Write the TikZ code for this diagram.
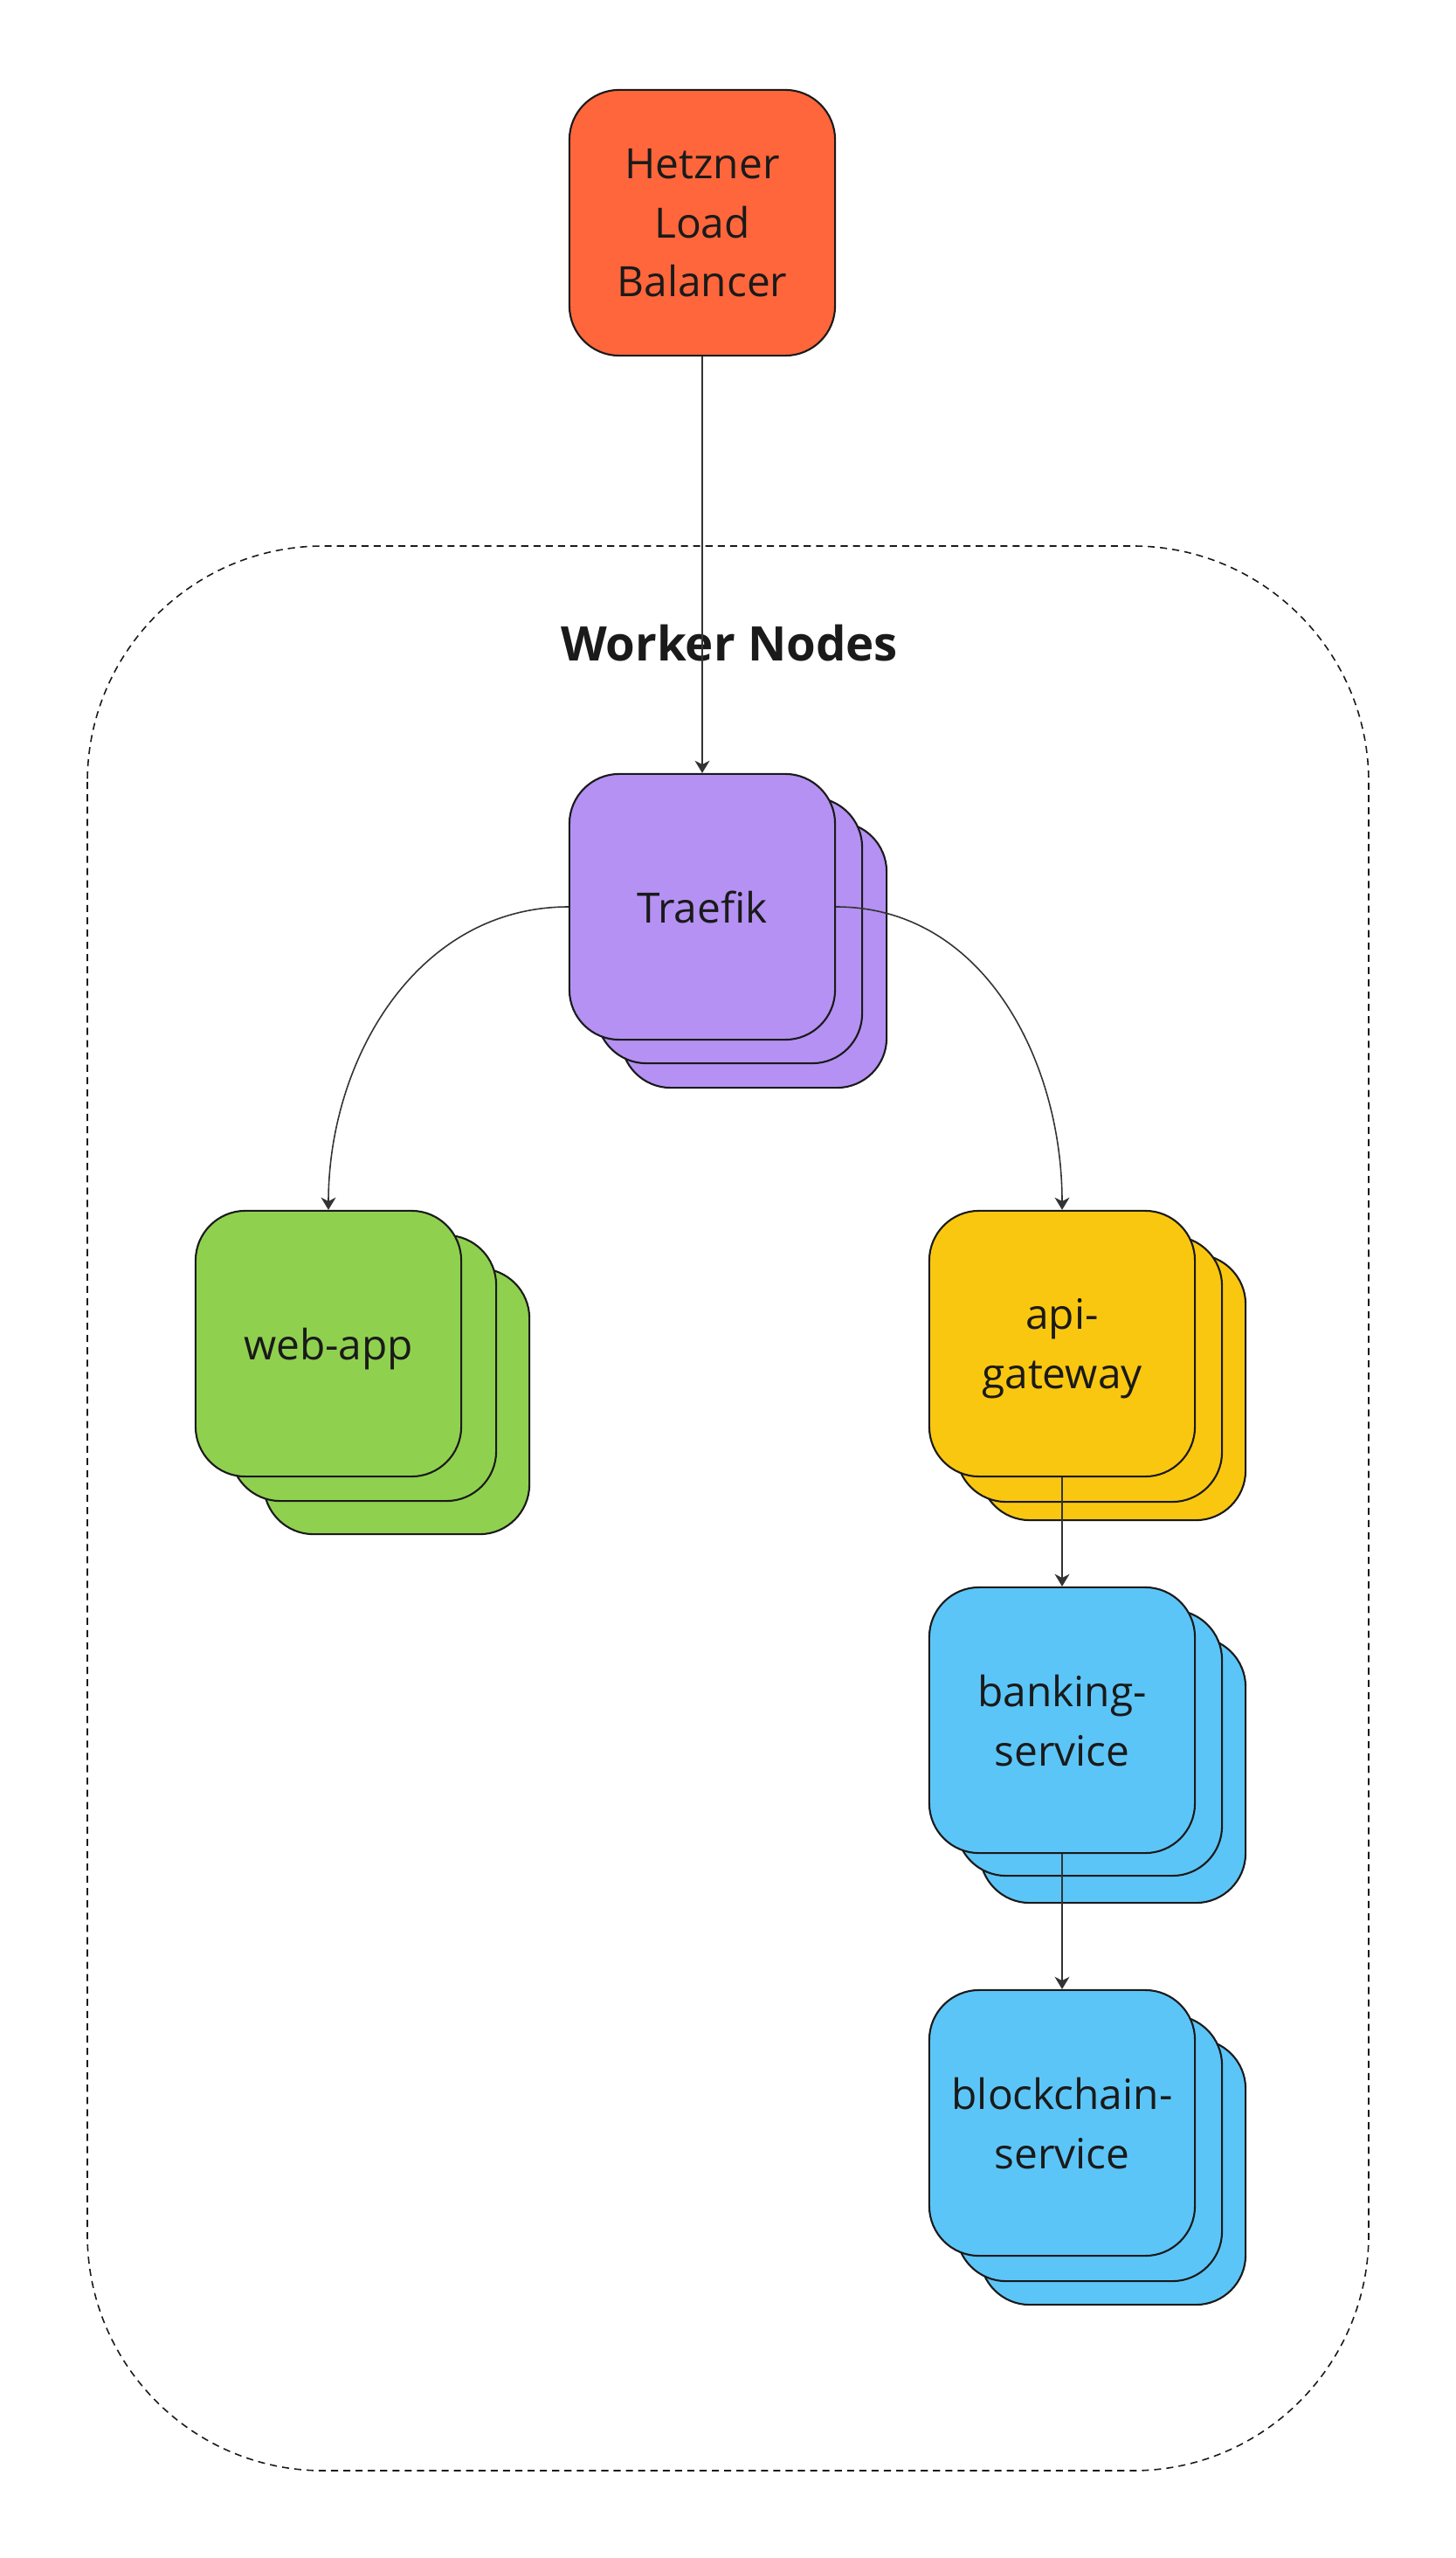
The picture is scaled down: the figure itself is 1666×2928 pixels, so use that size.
\documentclass[tikz,border=0pt]{standalone}
\usepackage{fontspec}
\setmainfont{Open Sans}
\usetikzlibrary{arrows.meta,shadows}
\definecolor{hetzner}{RGB}{255,102,59}
\definecolor{traefik}{RGB}{180,145,242}
\definecolor{webapp}{RGB}{143,209,79}
\definecolor{apigw}{RGB}{250,199,16}
\definecolor{svc}{RGB}{92,197,247}
\definecolor{ink}{RGB}{26,26,26}
\definecolor{wirec}{RGB}{51,51,51}
\tikzset{
	box/.style={draw=ink,line width=.6pt,fill=#1,rounded corners=.57cm,minimum width=3.04cm,minimum height=3.04cm,align=center,text=ink,text depth=0pt,font=\fontsize{13.6}{19.3}\selectfont},
	pile/.style n args={5}{copy shadow={fill=#1,draw=ink,line width=.6pt,shadow xshift=#4,shadow yshift=-#5},copy shadow={fill=#1,draw=ink,line width=.6pt,shadow xshift=#2,shadow yshift=-#3}},
	wire/.style={draw=wirec,line width=.45pt,->}
}
\begin{document}
\begin{tikzpicture}[x=.01cm,y=-.01cm,>={Stealth[length=4pt,width=4.8pt,inset=1.2pt]},line join=round]
	\useasboundingbox (0,0) rectangle (1666,2928);
	%Worker nodes
	\draw[ink,dash pattern=on 2.3pt off 1.7pt,line width=.45pt,rounded corners=2.7cm] (100,625) rectangle (1567,2828);
	\node[text=ink,font=\fontsize{15.5}{18}\selectfont\bfseries] (title) at (835,736) {Worker Nodes};
	%Boxes
	\node[box=hetzner] (lb) at (804,255) {Hetzner\\Load\\Balancer};
	\node[box=traefik,pile={traefik}{.31cm}{.27cm}{.59cm}{.55cm}] (traefik) at (804,1038) {Traefik};
	\node[box=webapp,pile={webapp}{.4cm}{.28cm}{.78cm}{.66cm}] (web) at (376,1538) {web-app};
	\node[box=apigw,pile={apigw}{.31cm}{.29cm}{.58cm}{.5cm}] (api) at (1216,1538) {api-\\gateway};
	\node[box=svc,pile={svc}{.31cm}{.26cm}{.58cm}{.57cm}] (bank) at (1216,1969) {banking-\\service};
	\node[box=svc,pile={svc}{.31cm}{.29cm}{.58cm}{.56cm}] (chain) at (1216,2430) {blockchain-\\service};
	%Arrows
	\draw[wire] (lb.south) -- (traefik.north);
	\draw[wire] (traefik.west) to[out=180,in=90] (web.north);
	\draw[wire] (traefik.east) to[out=0,in=90] (api.north);
	\draw[wire] (api.south) -- (bank.north);
	\draw[wire] (bank.south) -- (chain.north);
\end{tikzpicture}
\end{document}
